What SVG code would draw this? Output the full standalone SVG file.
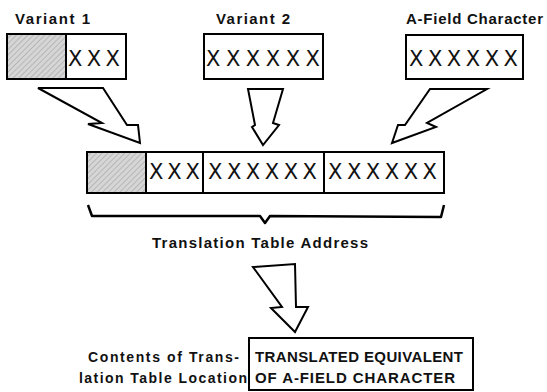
<svg xmlns="http://www.w3.org/2000/svg" width="547" height="392" viewBox="0 0 547 392">
<style>
.box{fill:#fff;stroke:#000;stroke-width:2}
.div{stroke:#000;stroke-width:2}
.lbl{font-family:"Liberation Sans",Arial,sans-serif;font-weight:bold;font-size:15px;fill:#111}
.sm{font-family:"Liberation Sans",Arial,sans-serif;font-weight:bold;font-size:14px;fill:#111}
.xx{font-family:"DejaVu Sans","Liberation Sans",sans-serif;font-size:21px;fill:#111}
.up{font-family:"Liberation Sans",Arial,sans-serif;font-weight:bold;font-size:15px;fill:#111}
.arrow{fill:#fff;stroke:#000;stroke-width:2;stroke-linejoin:miter}
.brace{fill:none;stroke:#000;stroke-width:2.5;stroke-linejoin:round}
</style>
<defs>
<pattern id="hatch" width="4" height="4" patternUnits="userSpaceOnUse" patternTransform="rotate(45)">
<rect width="4" height="4" fill="#d6d6d6"/>
<line x1="0" y1="0" x2="0" y2="4" stroke="#a9a9a9" stroke-width="1.4"/>
</pattern>
</defs>
<rect width="547" height="392" fill="#fff"/>

<g id="variant1">
<text class="lbl" x="15" y="24" textLength="75" lengthAdjust="spacing">Variant 1</text>
<rect class="box" x="7" y="34" width="119" height="45"/>
<rect x="8" y="35" width="58" height="43" fill="url(#hatch)"/>
<line class="div" x1="66" y1="34" x2="66" y2="79"/>
<text class="xx" x="68" y="66" textLength="52" lengthAdjust="spacing">XXX</text>
</g>

<g id="variant2">
<text class="lbl" x="216" y="24" textLength="74" lengthAdjust="spacing">Variant 2</text>
<rect class="box" x="204" y="34" width="119" height="45"/>
<text class="xx" x="206" y="66" textLength="114" lengthAdjust="spacing">XXXXXX</text>
</g>

<g id="afield">
<text class="lbl" x="406" y="24" textLength="137" lengthAdjust="spacing">A-Field Character</text>
<rect class="box" x="406" y="35" width="117" height="44"/>
<text class="xx" x="409" y="66" textLength="109" lengthAdjust="spacing">XXXXXX</text>
</g>

<g id="address">
<rect class="box" x="87" y="152" width="357" height="41"/>
<rect x="88" y="153" width="58" height="39" fill="url(#hatch)"/>
<line class="div" x1="146" y1="152" x2="146" y2="193"/>
<line class="div" x1="203" y1="152" x2="203" y2="193"/>
<line class="div" x1="324" y1="152" x2="324" y2="193"/>
<text class="xx" x="149" y="179" textLength="51" lengthAdjust="spacing">XXX</text>
<text class="xx" x="208" y="179" textLength="109" lengthAdjust="spacing">XXXXXX</text>
<text class="xx" x="328" y="179" textLength="109" lengthAdjust="spacing">XXXXXX</text>
<text class="lbl" x="152" y="248" textLength="216" lengthAdjust="spacing">Translation Table Address</text>
</g>

<g id="result">
<text class="sm" x="88" y="362" textLength="151" lengthAdjust="spacing">Contents of Trans-</text>
<text class="sm" x="79" y="383" textLength="168" lengthAdjust="spacing">lation Table Location</text>
<rect class="box" x="249" y="338" width="224" height="52"/>
<text class="up" x="255" y="362" textLength="208" lengthAdjust="spacing">TRANSLATED EQUIVALENT</text>
<text class="up" x="255" y="383" textLength="200" lengthAdjust="spacing">OF A-FIELD CHARACTER</text>
</g>

<g id="connectors">
<polygon class="arrow" points="38,88 103,88 127,125 138,125 140,143 88,124 102,123"/>
<polygon class="arrow" points="248,89 283,89 273,123 279,125 263,145 252,127 255,125"/>
<polygon class="arrow" points="430,89 487,89 427,123 436,127 392,143 398,125 405,125"/>
<polygon class="arrow" points="253,267 295,264 296,307 308,307 295,332 271,308 282,307"/>
<path class="brace" d="M88,205 L92,216 L260,216 L265,223 L270,216 L441,217 L444,205"/>
</g>
</svg>
